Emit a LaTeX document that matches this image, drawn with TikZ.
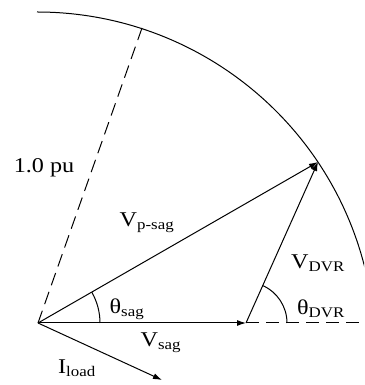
\documentclass[tikz,border=0pt]{standalone}
\usepackage{fontspec}
\setmainfont{Liberation Serif}
\usepackage{tikz}
\usetikzlibrary{arrows.meta}

\begin{document}
\begin{tikzpicture}[x=1pt,y=1pt,line width=1pt,
    lbl/.style={inner sep=0pt,xscale=1.15,font=\fontsize{21}{25}\selectfont},
    phasor/.style={-{Latex[length=9pt,width=6pt]}},
    guide/.style={dash pattern=on 13pt off 7pt}]
        \useasboundingbox (0,0) rectangle (364,385);
        \clip (0,0) rectangle (364,385);
        % Coordinates
        \coordinate (O) at (38, 62);
        \coordinate (S) at (246, 62);
        \coordinate (P) at (318, 223);
        \coordinate (T) at (142, 357);
        \coordinate (R) at (366, 62);
        \coordinate (L) at (162, 5);
        \coordinate (C) at (37, 35);

        % Drawing
        \draw ([shift={(90:338)}]C) arc (90:10:338);
        \draw[guide] (O) -- (T);
        \draw[guide] (S) -- (R);
        \draw[phasor] (O) -- (S);
        \draw[phasor] (O) -- (P);
        \draw[phasor] (S) -- (P);
        \draw[phasor] (O) -- (L);
        \draw ([shift={(0:62)}]O) arc (0:29.9:62);
        \draw ([shift={(0:41)}]S) arc (0:66.2:41);

        \node[lbl] (pu) at (44, 217) {1.0 pu};
        \node[lbl] (vp) at (147, 162) {V\textsubscript{p-sag}};
        \node[lbl] (vdvr) at (318, 122) {V\textsubscript{DVR}};
        \node[lbl] (tsag) at (127, 76) {θ\textsubscript{sag}};
        \node[lbl] (tdvr) at (321, 76) {θ\textsubscript{DVR}};
        \node[lbl] (vsag) at (161, 42) {V\textsubscript{sag}};
        \node[lbl] (il) at (77, 17) {I\textsubscript{load}};
    \end{tikzpicture}
\end{document}
